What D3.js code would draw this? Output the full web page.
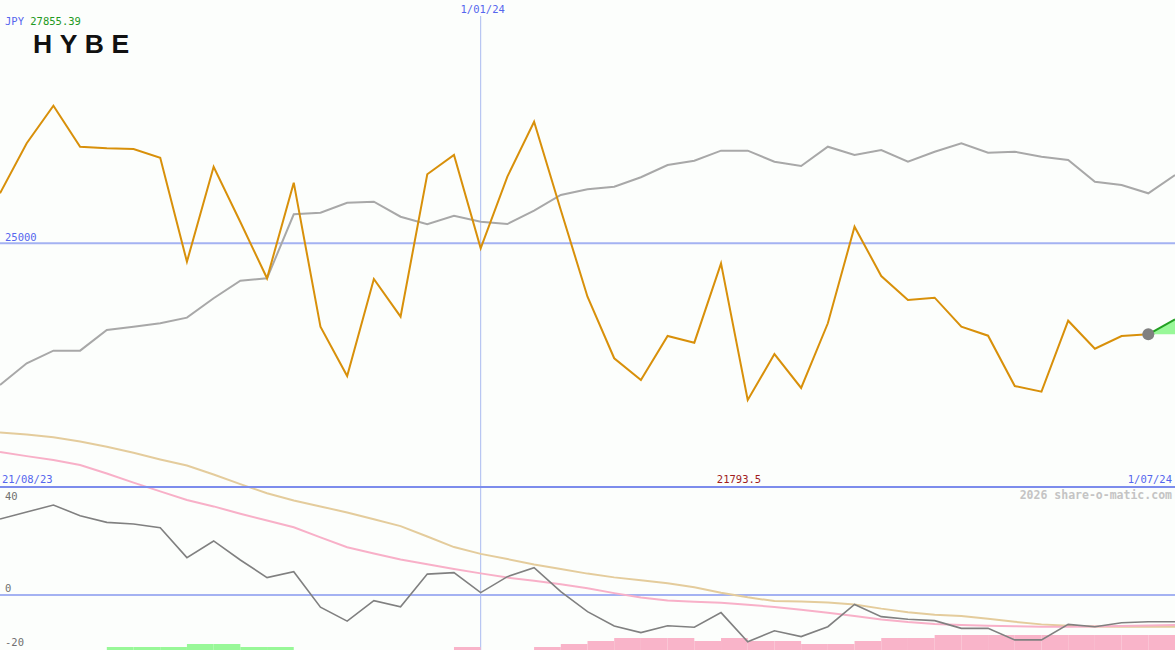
<!DOCTYPE html>
<html><head><meta charset="utf-8">
<script src="https://cdn.jsdelivr.net/npm/d3@7"></script>
<style>
html,body{margin:0;padding:0;background:#fcfefc;}
svg{display:block;}
text{font-family:"DejaVu Sans Mono",monospace;}
</style></head>
<body>
<svg id="c" width="1175" height="650"></svg>
<script>
// ---- data (weekly, index 0 = 28/08/23, index 18 = 1/01/24) ----
const priceSeries = [25657,26315,26810,26270,26249,26240,26125,24757,26007,25280,
  24539,25797,23902,23254,24530,24034,25907,26161,24934,25876,
  26599,25437,24297,23487,23201,23780,23692,24736,22938,23543,
  23096,23947,25218,24569,24254,24284,23902,23784,23122,23047,
  23981,23613,23780,23802];
const projection = [23802, 24000];
const avgSeries = [23135,23421,23587,23587,23859,23902,23947,24021,24276,24507,
  24539,25381,25402,25533,25547,25349,25249,25362,25284,25253,
  25428,25635,25710,25744,25868,26029,26086,26218,26218,26073,
  26016,26270,26161,26227,26073,26204,26315,26191,26204,26139,
  26095,25810,25766,25657,25898];
const oscSeries = [32.3,35.3,38.3,33.7,30.9,30.2,28.6,15.9,23.0,14.9,
  7.4,9.9,-5.2,-11.1,-2.4,-5.0,8.9,9.5,1.0,7.8,
  11.6,1.4,-7.1,-13.2,-16.0,-13.1,-13.7,-7.5,-19.9,-15.2,
  -17.7,-13.5,-4.0,-9.2,-10.3,-10.9,-14.2,-14.2,-19.1,-19.1,
  -12.5,-13.5,-11.8,-11.4,-11.4];
const pinkSeries = [60.9,59.1,57.4,55.3,51.7,47.8,44.1,40.4,37.7,34.6,
  31.7,28.8,24.5,20.3,17.7,15.1,13.1,11.1,9.2,7.4,
  6.1,4.6,2.9,0.8,-1.1,-2.3,-2.9,-3.3,-4.1,-5.1,
  -6.3,-7.6,-8.9,-10.4,-11.5,-12.3,-12.8,-13.1,-13.3,-13.5,
  -13.5,-13.4,-13.2,-13.0,-12.8];
const tanSeries = [69.2,68.3,67.1,65.3,63.1,60.5,57.7,55.1,51.3,47.2,
  43.3,40.2,37.7,35.1,32.2,29.3,24.9,20.4,17.5,15.3,
  13.0,11.1,9.1,7.5,6.3,5.0,3.3,1.0,-1.0,-2.6,
  -2.8,-3.2,-4.0,-5.8,-7.3,-8.4,-8.9,-10.1,-11.4,-12.5,
  -13.1,-13.4,-13.5,-13.5,-13.5];
// histogram: [index, height, sign] sign 1 = green, -1 = pink
const histIndex  = [4,5,6,7,8,9,10, 17,20,21,22,23,24,25,26,27,28,29,30,31,32,33,34,35,36,37,38,39,40,41,42,43,44];
const histValues = [1,1,1,2,2,1,1, -1,-1,-2,-3,-4,-4,-4,-3,-4,-3,-3,-2,-2,-3,-4,-4,-5,-5,-5,-5,-5,-5,-5,-5,-5,-5];
const priceTicks = [25000];
const oscTicks = [40, 0, -20];
const dateLabels = ["21/08/23", "1/01/24", "1/07/24"];
const dateLabelIndex = 18;
const lowLabel = "21793.5";
const headerCurrency = "JPY";
const headerValue = "27855.39";
const title = "HYBE";
const credit = "2026 share-o-matic.com";

// ---- scales ----
const W = 1175, H = 650;
const x = d3.scaleLinear().domain([0, 44]).range([0, W]);
const yP = d3.scaleLinear().domain([21793.5, 28200]).range([487, 0]);
const yO = d3.scaleLinear().domain([-20, 40]).range([642, 501]);
const yH = d3.scaleLinear().domain([0, 5]).range([650, 635]);
const bw = x(1) - x(0);

const svg = d3.select("#c");
svg.append("rect").attr("width", W).attr("height", H).attr("fill", "#fcfefc");

// reference lines
svg.selectAll("line.pt").data(priceTicks).join("line")
  .attr("x1", 0).attr("x2", W).attr("y1", d => yP(d)).attr("y2", d => yP(d))
  .attr("stroke", "#a4b2f2").attr("stroke-width", 2);
svg.selectAll("line.ot").data(oscTicks.filter(d => d === 0)).join("line")
  .attr("x1", 0).attr("x2", W).attr("y1", d => yO(d)).attr("y2", d => yO(d))
  .attr("stroke", "#a4b2f2").attr("stroke-width", 2);
svg.append("line").attr("x1", x(dateLabelIndex)).attr("x2", x(dateLabelIndex))
  .attr("y1", 16).attr("y2", H).attr("stroke", "#aabaf0").attr("stroke-width", 1);

// lower panel lines
const line = (ys) => d3.line().x((d, i) => x(i)).y(d => ys(d));
svg.append("path").datum(tanSeries).attr("d", line(yO)).attr("fill", "none")
  .attr("stroke", "#e4cc9c").attr("stroke-width", 2);
svg.append("path").datum(pinkSeries).attr("d", line(yO)).attr("fill", "none")
  .attr("stroke", "#f8b0c8").attr("stroke-width", 2);

// histogram bars
svg.selectAll("rect.h").data(histIndex).join("rect")
  .attr("x", d => x(d)).attr("width", bw)
  .attr("y", (d, i) => yH(Math.abs(histValues[i])))
  .attr("height", (d, i) => yH(0) - yH(Math.abs(histValues[i])))
  .attr("fill", (d, i) => histValues[i] > 0 ? "#98f898" : "#f9b4c9");

svg.append("path").datum(oscSeries).attr("d", line(yO)).attr("fill", "none")
  .attr("stroke", "#808080").attr("stroke-width", 1.6);

// separator
svg.append("line").attr("x1", 0).attr("x2", W).attr("y1", 487).attr("y2", 487)
  .attr("stroke", "#7c8cec").attr("stroke-width", 2);

// main panel
svg.append("path").datum(avgSeries).attr("d", line(yP)).attr("fill", "none")
  .attr("stroke", "#a8a8a8").attr("stroke-width", 2);
svg.append("path").datum(priceSeries).attr("d", line(yP)).attr("fill", "none")
  .attr("stroke", "#d8900a").attr("stroke-width", 2).attr("stroke-linejoin", "miter");

// projection
const n = priceSeries.length - 1;
svg.append("path")
  .attr("d", `M${x(n)},${yP(projection[0])}L${x(n + 1)},${yP(projection[1])}L${x(n + 1)},${yP(projection[0])}Z`)
  .attr("fill", "#98f898");
svg.append("line").attr("x1", x(n)).attr("y1", yP(projection[0]))
  .attr("x2", x(n + 1)).attr("y2", yP(projection[1]))
  .attr("stroke", "#22a022").attr("stroke-width", 2);
svg.append("circle").attr("cx", x(n)).attr("cy", yP(priceSeries[n])).attr("r", 6)
  .attr("fill", "#808080");

// texts
const fs = "10.5px";
const hdr = svg.append("text").attr("x", 5).attr("y", 25).attr("font-size", fs);
hdr.append("tspan").attr("fill", "#5566ee").text(headerCurrency + " ");
hdr.append("tspan").attr("fill", "#229922").text(headerValue);

svg.append("text").attr("x", 33).attr("y", 53).attr("font-size", "26.5px")
  .attr("font-family", "'Liberation Sans',Arial,sans-serif").attr("font-weight", 700)
  .attr("letter-spacing", "7.5px").attr("fill", "#111").style("font-family", "'Liberation Sans',Arial,sans-serif")
  .text(title);

svg.selectAll("text.pt").data(priceTicks).join("text")
  .attr("x", 5).attr("y", d => yP(d) - 2).attr("font-size", fs).attr("fill", "#5566ee").text(d => d);

svg.append("text").attr("x", x(dateLabelIndex) + 2).attr("y", 13).attr("text-anchor", "middle")
  .attr("font-size", fs).attr("fill", "#5566ee").text(dateLabels[1]);
svg.append("text").attr("x", 2).attr("y", 483).attr("font-size", fs).attr("fill", "#5566ee").text(dateLabels[0]);
svg.append("text").attr("x", 1172).attr("y", 483).attr("text-anchor", "end")
  .attr("font-size", fs).attr("fill", "#5566ee").text(dateLabels[2]);
svg.append("text").attr("x", 739).attr("y", 483).attr("text-anchor", "middle")
  .attr("font-size", fs).attr("fill", "#a01c1c").text(lowLabel);
svg.append("text").attr("x", 1172).attr("y", 499).attr("text-anchor", "end")
  .attr("font-size", "11.5px").attr("font-weight", 700).attr("fill", "#c4c4c4").text(credit);

const oscDy = d => d > 0 ? -1 : (d === 0 ? -3 : 4);
svg.selectAll("text.ot").data(oscTicks).join("text")
  .attr("x", 5).attr("y", d => yO(d) + oscDy(d)).attr("font-size", fs)
  .attr("fill", "#707070").text(d => d === 0 ? "0" : String(d).replace("-", "-"));
</script>
</body></html>
